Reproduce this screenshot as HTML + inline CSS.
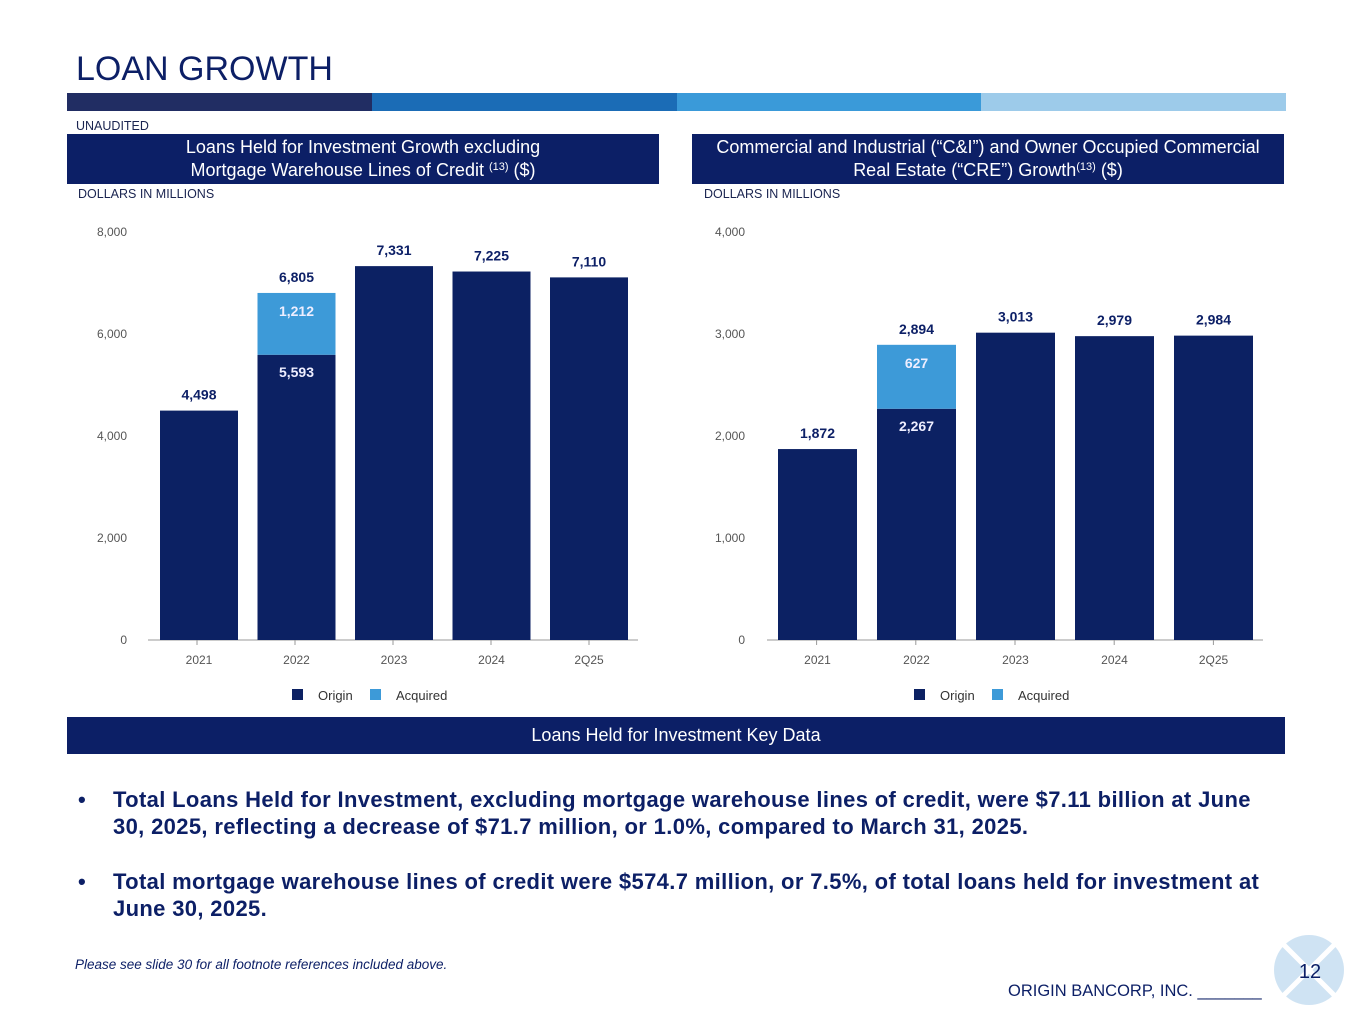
<!DOCTYPE html>
<html><head><meta charset="utf-8"><style>
body{margin:0;width:1365px;height:1024px;background:#fff;font-family:"Liberation Sans",sans-serif;position:relative;overflow:hidden}
.abs{position:absolute}
.hdr{background:#0c1f66;color:#fff;text-align:center;font-size:18px;line-height:23px}
.hdr sup{font-size:11px;line-height:0;vertical-align:6px}
.small{font-size:12.5px;color:#1a2450}
</style></head><body>
<div class="abs" style="left:76px;top:50px;font-size:34px;color:#0c1f66">LOAN GROWTH</div>
<div class="abs" style="left:67px;top:93px;width:1219px;height:18px;display:flex">
<div style="flex:1;background:#212d63"></div><div style="flex:1;background:#1b6cb6"></div><div style="flex:1;background:#3a9ad9"></div><div style="flex:1;background:#9dcbea"></div></div>
<div class="abs small" style="left:76px;top:119px">UNAUDITED</div>
<div class="abs hdr" style="left:67px;top:134px;width:592px;height:50px;padding-top:2px;box-sizing:border-box">Loans Held for Investment Growth excluding<br>Mortgage Warehouse Lines of Credit <sup>(13)</sup> ($)</div>
<div class="abs hdr" style="left:692px;top:134px;width:592px;height:50px;padding-top:2px;box-sizing:border-box">Commercial and Industrial (“C&amp;I”) and Owner Occupied Commercial<br>Real Estate (“CRE”) Growth<sup>(13)</sup> ($)</div>
<div class="abs small" style="left:78px;top:187px">DOLLARS IN MILLIONS</div>
<div class="abs small" style="left:704px;top:187px">DOLLARS IN MILLIONS</div>
<svg class="abs" id="charts" style="left:0;top:0" width="1365" height="720"></svg>
<div class="abs hdr" style="left:67px;top:717px;width:1218px;height:37px;line-height:37px">Loans Held for Investment Key Data</div>
<div class="abs" style="left:78px;top:786px;width:1270px;color:#0c1f66;font-weight:bold;font-size:22px;letter-spacing:0.35px;line-height:27px;white-space:nowrap">
<div style="display:flex"><span style="width:35px;flex:none">•</span><span>Total Loans Held for Investment, excluding mortgage warehouse lines of credit, were $7.11 billion at June<br>30, 2025, reflecting a decrease of $71.7 million, or 1.0%, compared to March 31, 2025.</span></div>
<div style="display:flex;margin-top:28px"><span style="width:35px;flex:none">•</span><span>Total mortgage warehouse lines of credit were $574.7 million, or 7.5%, of total loans held for investment at<br>June 30, 2025.</span></div>
</div>
<div class="abs" style="left:75px;top:957px;font-size:13.5px;font-style:italic;color:#0c1f66">Please see slide 30 for all footnote references included above.</div>
<div class="abs" style="left:1008px;top:982px;font-size:16.5px;color:#0c1f66">ORIGIN BANCORP, INC. _______</div>
<svg class="abs" style="left:1272px;top:933px" width="74" height="74">
<circle cx="37" cy="37" r="35" fill="#cfe3f3"/><line x1="12" y1="12" x2="62" y2="62" stroke="#fff" stroke-width="5"/><line x1="62" y1="12" x2="12" y2="62" stroke="#fff" stroke-width="5"/>
<text x="38" y="45" text-anchor="middle" font-size="20" fill="#0c1f66" font-family="Liberation Sans">12</text></svg>
<script>
const categories=["2021","2022","2023","2024","2Q25"];
const leftOrigin=[4498,5593,7331,7225,7110];
const leftAcquired=[0,1212,0,0,0];
const leftTicks=[0,2000,4000,6000,8000];
const rightOrigin=[1872,2267,3013,2979,2984];
const rightAcquired=[0,627,0,0,0];
const rightTicks=[0,1000,2000,3000,4000];
const NS="http://www.w3.org/2000/svg";
const svg=document.getElementById('charts');
function mk(tag,attrs,txt){const e=document.createElementNS(NS,tag);for(const k in attrs)e.setAttribute(k,attrs[k]);if(txt!=null)e.textContent=txt;svg.appendChild(e);return e;}
const fmt=v=>v.toLocaleString('en-US');
function chart(cfg,origin,acq,ticks,prefix){
  const y=v=>cfg.y0-(v/ticks[ticks.length-1])*(cfg.y0-cfg.yTop);
  const x=i=>cfg.x0+i*cfg.step;
  ticks.forEach(t=>{const e=mk('text',{x:cfg.tickX,y:y(t)+4,'text-anchor':'end','font-size':12,fill:'#555','font-family':'Liberation Sans'},fmt(t));
    
    });
  const ax=mk('line',{x1:cfg.axL,x2:cfg.axR,y1:cfg.y0,y2:cfg.y0,stroke:'#999','stroke-width':1});
  
  
  categories.forEach((c,i)=>{
    const cx=x(i)+cfg.bw/2;
    mk('line',{x1:cfg.axL+(i+0.5)*(cfg.axR-cfg.axL)/5,x2:cfg.axL+(i+0.5)*(cfg.axR-cfg.axL)/5,y1:cfg.y0,y2:cfg.y0+5,stroke:'#999'});
    const t=mk('text',{x:cx,y:cfg.y0+24,'text-anchor':'middle','font-size':12,fill:'#555','font-family':'Liberation Sans'},c);
    
    
    const b=mk('rect',{x:x(i),y:y(origin[i]),width:cfg.bw,height:cfg.y0-y(origin[i]),fill:'#0c2163'});
    
    
    const total=origin[i]+acq[i];
    if(acq[i]>0){
      const a=mk('rect',{x:x(i),y:y(total),width:cfg.bw,height:y(origin[i])-y(total),fill:'#3d9ad8'});
      
      
      const l1=mk('text',{x:cx,y:y(origin[i])+22,'text-anchor':'middle','font-size':14,'font-weight':'bold',fill:'#eef','font-family':'Liberation Sans'},fmt(origin[i]));
      
      
      const l2=mk('text',{x:cx,y:y(total)+23,'text-anchor':'middle','font-size':14,'font-weight':'bold',fill:'#eef','font-family':'Liberation Sans'},fmt(acq[i]));
      
      
    }
    const lt=mk('text',{x:cx,y:y(total)-11,'text-anchor':'middle','font-size':14,'font-weight':'bold',fill:'#0c1f66','font-family':'Liberation Sans'},fmt(total));
    
    
  });
  const lg=cfg.legX;
  mk('rect',{x:lg,y:689,width:11,height:11,fill:'#0c2163'});
  const o=mk('text',{x:lg+26,y:700,'font-size':13,fill:'#333','font-family':'Liberation Sans'},'Origin');
  
  
  mk('rect',{x:lg+78,y:689,width:11,height:11,fill:'#3d9ad8'});
  const q=mk('text',{x:lg+104,y:700,'font-size':13,fill:'#333','font-family':'Liberation Sans'},'Acquired');
  
  
}
chart({y0:640,yTop:232,x0:160,step:97.5,bw:78,tickX:127,axL:148,axR:638,legX:292},leftOrigin,leftAcquired,leftTicks,'left');
chart({y0:640,yTop:232,x0:778,step:99,bw:79,tickX:745,axL:767,axR:1263,legX:914},rightOrigin,rightAcquired,rightTicks,'right');
</script>
</body></html>
